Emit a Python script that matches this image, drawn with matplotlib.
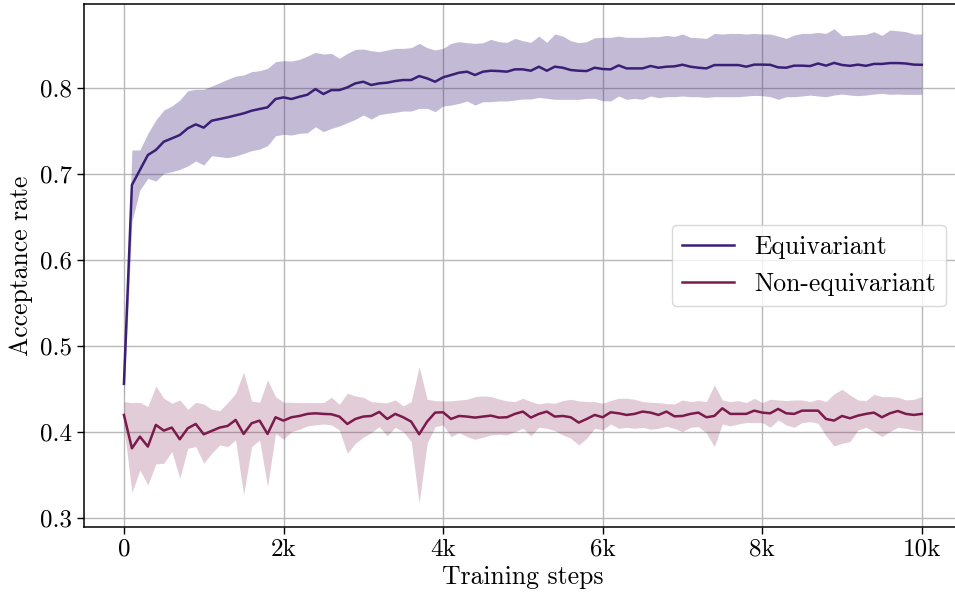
import numpy as np
import matplotlib
matplotlib.use("Agg")
import matplotlib.pyplot as plt

plt.rcParams["font.family"] = ["cmr10", "DejaVu Serif"]
plt.rcParams["mathtext.fontset"] = "cm"
plt.rcParams["axes.formatter.use_mathtext"] = True

steps = np.arange(0, 10001, 100)

eq_mean = [0.456, 0.6872, 0.7046, 0.7221, 0.7279, 0.7376, 0.7414, 0.7453, 0.7531, 0.7577,
           0.7539, 0.7620, 0.7639, 0.7659, 0.7682, 0.7705, 0.7736, 0.7756, 0.7775, 0.7872,
           0.7891, 0.7872, 0.7899, 0.7922, 0.7988, 0.7930, 0.7976, 0.7976, 0.8007, 0.8054,
           0.8073, 0.8035, 0.8054, 0.8062, 0.8081, 0.8093, 0.8093, 0.8139, 0.8112, 0.8073,
           0.8124, 0.8151, 0.8178, 0.8190, 0.8151, 0.8190, 0.8201, 0.8197, 0.8190, 0.8217,
           0.8217, 0.8201, 0.8248, 0.8201, 0.8248, 0.8236, 0.8209, 0.8201, 0.8197, 0.8236,
           0.8221, 0.8217, 0.8263, 0.8228, 0.8228, 0.8228, 0.8256, 0.8236, 0.8248, 0.8252,
           0.8271, 0.8248, 0.8236, 0.8228, 0.8267, 0.8267, 0.8267, 0.8267, 0.8248, 0.8272,
           0.8272, 0.8270, 0.8240, 0.8236, 0.8260, 0.8260, 0.8255, 0.8285, 0.8260, 0.8292,
           0.8268, 0.8258, 0.8272, 0.8258, 0.8280, 0.8280, 0.8290, 0.8290, 0.8285, 0.8272,
           0.8270]
eq_hi = [0.470, 0.7279, 0.7279, 0.7473, 0.7628, 0.7744, 0.7790, 0.7860, 0.7969, 0.7984,
         0.7984, 0.8023, 0.8062, 0.8101, 0.8139, 0.8151, 0.8190, 0.8201, 0.8228, 0.8306,
         0.8318, 0.8314, 0.8333, 0.8372, 0.8414, 0.8395, 0.8403, 0.8345, 0.8403, 0.8449,
         0.8453, 0.8434, 0.8422, 0.8442, 0.8461, 0.8461, 0.8469, 0.8519, 0.8469, 0.8442,
         0.8461, 0.8519, 0.8539, 0.8527, 0.8519, 0.8527, 0.8566, 0.8539, 0.8531, 0.8577,
         0.8550, 0.8531, 0.8604, 0.8531, 0.8628, 0.8604, 0.8550, 0.8527, 0.8539, 0.8585,
         0.8589, 0.8589, 0.8604, 0.8589, 0.8589, 0.8589, 0.8597, 0.8597, 0.8612, 0.8600,
         0.8628, 0.8589, 0.8585, 0.8577, 0.8635, 0.8628, 0.8635, 0.8635, 0.8628, 0.8635,
         0.8628, 0.8628, 0.8604, 0.8577, 0.8616, 0.8635, 0.8635, 0.8647, 0.8635, 0.8690,
         0.8608, 0.8612, 0.8620, 0.8624, 0.8655, 0.8612, 0.8674, 0.8666, 0.8655, 0.8628,
         0.8628]
eq_lo = [0.440, 0.645, 0.6814, 0.6949, 0.6918, 0.7007, 0.7027, 0.7054, 0.7093, 0.7151,
         0.7104, 0.7213, 0.7201, 0.7190, 0.7209, 0.7240, 0.7271, 0.7290, 0.7329, 0.7445,
         0.7461, 0.7453, 0.7473, 0.7480, 0.7550, 0.7492, 0.7531, 0.7558, 0.7597, 0.7635,
         0.7686, 0.7639, 0.7690, 0.7705, 0.7717, 0.7732, 0.7732, 0.7763, 0.7763, 0.7725,
         0.7790, 0.7802, 0.7821, 0.7849, 0.7802, 0.7841, 0.7841, 0.7849, 0.7849, 0.7860,
         0.7872, 0.7872, 0.7891, 0.7880, 0.7868, 0.7868, 0.7868, 0.7868, 0.7880, 0.7880,
         0.7852, 0.7849, 0.7907, 0.7868, 0.7880, 0.7868, 0.7907, 0.7887, 0.7899, 0.7899,
         0.7907, 0.7899, 0.7899, 0.7891, 0.7899, 0.7899, 0.7899, 0.7899, 0.7907, 0.7914,
         0.7911, 0.7899, 0.7868, 0.7899, 0.7899, 0.7907, 0.7918, 0.7907, 0.7899, 0.7918,
         0.7930, 0.7918, 0.7911, 0.7918, 0.7930, 0.7938, 0.7926, 0.7930, 0.7926, 0.7926,
         0.7926]

ne_mean = [0.4198, 0.3810, 0.3946, 0.3830, 0.4082, 0.4016, 0.4051, 0.3915, 0.4043, 0.4093,
           0.3973, 0.4012, 0.4051, 0.4070, 0.4140, 0.3977, 0.4101, 0.4132, 0.3977, 0.4171,
           0.4132, 0.4171, 0.4186, 0.4210, 0.4217, 0.4210, 0.4206, 0.4179, 0.4093, 0.4151,
           0.4179, 0.4186, 0.4233, 0.4151, 0.4210, 0.4171, 0.4120, 0.3973, 0.4120, 0.4225,
           0.4229, 0.4151, 0.4186, 0.4179, 0.4167, 0.4179, 0.4190, 0.4167, 0.4171, 0.4210,
           0.4237, 0.4167, 0.4210, 0.4237, 0.4179, 0.4186, 0.4171, 0.4109, 0.4151, 0.4198,
           0.4171, 0.4229, 0.4217, 0.4198, 0.4210, 0.4237, 0.4225, 0.4198, 0.4237, 0.4182,
           0.4186, 0.4210, 0.4225, 0.4171, 0.4186, 0.4275, 0.4210, 0.4210, 0.4210, 0.4248,
           0.4225, 0.4217, 0.4268, 0.4217, 0.4210, 0.4248, 0.4248, 0.4248, 0.4151, 0.4132,
           0.4186, 0.4159, 0.4190, 0.4210, 0.4225, 0.4171, 0.4217, 0.4244, 0.4210, 0.4198,
           0.4210]
ne_hi = [0.4353, 0.4341, 0.4345, 0.4295, 0.4535, 0.4392, 0.4334, 0.4372, 0.4264, 0.4345,
         0.4326, 0.4264, 0.4248, 0.4341, 0.4450, 0.4694, 0.4361, 0.4345, 0.4605, 0.4411,
         0.4345, 0.4345, 0.4341, 0.4341, 0.4341, 0.4341, 0.4403, 0.4322, 0.4450, 0.4419,
         0.4403, 0.4353, 0.4345, 0.4339, 0.4372, 0.4303, 0.4353, 0.4760, 0.4380, 0.4365,
         0.4361, 0.4361, 0.4372, 0.4380, 0.4411, 0.4419, 0.4411, 0.4384, 0.4361, 0.4353,
         0.4392, 0.4353, 0.4326, 0.4341, 0.4334, 0.4365, 0.4380, 0.4361, 0.4353, 0.4353,
         0.4334, 0.4365, 0.4392, 0.4392, 0.4380, 0.4353, 0.4345, 0.4341, 0.4330, 0.4326,
         0.4372, 0.4353, 0.4365, 0.4353, 0.4547, 0.4372, 0.4353, 0.4365, 0.4341, 0.4392,
         0.4341, 0.4380, 0.4372, 0.4365, 0.4372, 0.4372, 0.4353, 0.4380, 0.4353, 0.4442,
         0.4496, 0.4430, 0.4372, 0.4365, 0.4438, 0.4411, 0.4411, 0.4403, 0.4372, 0.4380,
         0.4411]
ne_lo = [0.4062, 0.3295, 0.3558, 0.3384, 0.3628, 0.3636, 0.3772, 0.3461, 0.3810, 0.3830,
         0.3636, 0.3752, 0.3849, 0.3830, 0.3907, 0.3268, 0.3830, 0.3907, 0.3365, 0.3985,
         0.3915, 0.4004, 0.4031, 0.4070, 0.4082, 0.4093, 0.4082, 0.4023, 0.3752, 0.3868,
         0.3938, 0.3992, 0.4062, 0.3954, 0.4054, 0.4004, 0.3888, 0.3171, 0.3868, 0.4062,
         0.4082, 0.3946, 0.3992, 0.3946, 0.3915, 0.3938, 0.3965, 0.3973, 0.3965, 0.4004,
         0.4043, 0.3954, 0.4054, 0.4043, 0.4016, 0.3965, 0.3927, 0.3849, 0.3927, 0.4043,
         0.4023, 0.4093, 0.4043, 0.4054, 0.4043, 0.4054, 0.4031, 0.4043, 0.4066, 0.4040,
         0.4004, 0.4054, 0.4062, 0.3985, 0.3830, 0.4093, 0.4070, 0.4093, 0.4109, 0.4109,
         0.4109, 0.4054, 0.4140, 0.4082, 0.4054, 0.4109, 0.4120, 0.4101, 0.3954, 0.3837,
         0.3868, 0.3888, 0.4023, 0.4054, 0.4004, 0.3946, 0.4004, 0.4054, 0.4043, 0.4023,
         0.4016]

x_ticks = [0, 2000, 4000, 6000, 8000, 10000]
x_ticklabels = ["0", "2k", "4k", "6k", "8k", "10k"]
y_ticks = [0.3, 0.4, 0.5, 0.6, 0.7, 0.8]

eq_color = "#3b1f77"
ne_color = "#7b1a4c"

fig = plt.figure(figsize=(9.55, 5.97), dpi=100)
ax = fig.add_axes([0.088, 0.1173, 0.919, 0.876])

ax.fill_between(steps, eq_lo, eq_hi, color=eq_color, alpha=0.3, linewidth=0)
ax.plot(steps, eq_mean, color=eq_color, lw=1.8, label="Equivariant")
ax.fill_between(steps, ne_lo, ne_hi, color=ne_color, alpha=0.22, linewidth=0)
ax.plot(steps, ne_mean, color=ne_color, lw=1.8, label="Non-equivariant")

ax.set_xlim(-500, 10500)
ax.set_ylim(0.2895, 0.8977)
ax.set_xticks(x_ticks)
ax.set_xticklabels(x_ticklabels)
ax.set_yticks(y_ticks)
ax.set_yticklabels([f"{v:.1f}" for v in y_ticks])
ax.tick_params(labelsize=18, length=5, width=1)
ax.grid(True, color="#b8b8b8", lw=1)
ax.set_axisbelow(True)
for s in ax.spines.values():
    s.set_linewidth(1.1)

ax.set_xlabel("Training steps", fontsize=18.5, labelpad=3)
ax.set_ylabel("Acceptance rate", fontsize=18.5, labelpad=5)
ax.legend(loc="center right", fontsize=18.5, handlelength=2.0, borderaxespad=0.6,
          framealpha=0.8, edgecolor="#d0d0d0")

fig.savefig("out.png", dpi=100)
